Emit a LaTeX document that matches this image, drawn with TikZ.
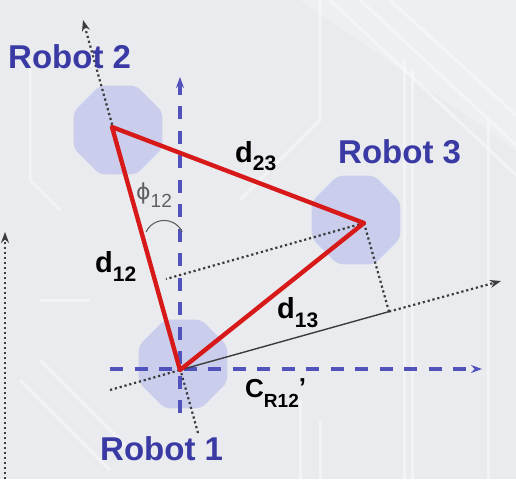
\documentclass[tikz,border=0pt]{standalone}
\usepackage{fontspec}
\setmainfont{Liberation Sans}
\newfontfamily\phifont{DejaVu Sans}
\usetikzlibrary{shapes.geometric,arrows.meta}
\definecolor{bg}{RGB}{234,235,238}
\definecolor{trace}{RGB}{248,249,250}
\definecolor{robotblue}{RGB}{58,58,165}
\definecolor{axisblue}{RGB}{82,82,188}
\definecolor{octfill}{RGB}{202,206,236}
\definecolor{tri}{RGB}{215,25,25}
\definecolor{dotgray}{RGB}{60,60,60}
\definecolor{phigray}{RGB}{95,95,95}
\begin{document}
\begin{tikzpicture}[x=1pt,y=-1pt,
  robot/.style={regular polygon,regular polygon sides=8,minimum size=96pt,inner sep=0pt,fill=octfill,draw=none,rounded corners=6pt},
  axisline/.style={axisblue,line width=3.2pt,dash pattern=on 13pt off 11.5pt,-{Stealth[length=11pt,width=8pt]}},
  guide/.style={dotgray,line width=2.2pt,dash pattern=on 2.2pt off 2.8pt},
  guidearrow/.style={guide,-{Stealth[length=11pt,width=8pt]}},
  proj/.style={dotgray,line width=1.4pt},
  triline/.style={tri,line width=4.4pt,line join=round,line cap=round},
  tracestyle/.style={trace,line width=3pt,opacity=0.6},
  rlabel/.style={robotblue,font=\fontsize{33}{33}\selectfont\bfseries,anchor=base west,inner sep=0pt},
  dlabel/.style={black,anchor=base west,inner sep=0pt,font=\bfseries},
  philabel/.style={phigray,anchor=base west,inner sep=0pt}
]
\useasboundingbox (0,0) rectangle (516,479);
\fill[bg] (0,0) rectangle (516,479);
% faint circuit-board traces
\fill[trace,opacity=0.35] (300,0) -- (516,0) -- (516,150) -- cycle;
\draw[tracestyle] (330,0) -- (516,175);
\draw[tracestyle] (360,0) -- (516,145);
\draw[tracestyle] (390,0) -- (516,115);
\draw[tracestyle] (404,60) -- (404,479);
\draw[tracestyle] (412,70) -- (412,479);
\draw[tracestyle] (488,120) -- (488,479);
\draw[tracestyle] (30,60) -- (30,180) -- (60,210);
\draw[tracestyle] (40,300) -- (90,300);
\draw[tracestyle] (20,380) -- (110,470);
\draw[tracestyle] (40,360) -- (140,460);
\draw[tracestyle] (240,200) -- (320,120) -- (320,0);
\draw[tracestyle] (300,400) -- (300,479);
\draw[tracestyle] (320,420) -- (320,479);

% robots
\node[robot] (o2) at (118,130) {};
\node[robot] (o3) at (356,220) {};
\node[robot] (o1) at (183,364) {};

% key points
\coordinate (r1) at (180,370);
\coordinate (r2) at (112,127);
\coordinate (r3) at (364,223);
\coordinate (vb) at (180,413);
\coordinate (vt) at (180,77);
\coordinate (hl) at (110,369);
\coordinate (hr) at (482,369);
\coordinate (g2) at (83,20);
\coordinate (g1) at (198,433);
\coordinate (pl) at (110,390);
\coordinate (pr) at (501,281);
\coordinate (f3) at (389,311.6);
\coordinate (f12) at (166,279);
\coordinate (el) at (5,479);
\coordinate (et) at (5,232);

% blue axes
\draw[axisline] (vb) -- (vt);
\draw[axisline] (hl) -- (hr);

% guide lines
\draw[guidearrow] (g1) -- (g2);
\draw[guide] (pl) -- (r1);
\draw[proj] (r1) -- (f3);
\draw[guidearrow] (f3) -- (pr);
\draw[guide] (r3) -- (f3);
\draw[guide] (r3) -- (f12);
\draw[guidearrow] (el) -- (et);

% angle arc
\draw[phigray,line width=1.1pt] (146,232) arc[start angle=205,end angle=335,radius=20];

% red triangle
\draw[triline] (r1) -- (r2) -- (r3) -- cycle;

% labels
\node[rlabel] (l2) at (8,68) {Robot 2};
\node[rlabel] (l3) at (338,163) {Robot 3};
\node[rlabel] (l1) at (100,460) {Robot 1};

\node[dlabel] (d23) at (235,162) {\fontsize{29}{29}\selectfont d\raisebox{-8pt}{\fontsize{21}{21}\selectfont 23}};
\node[dlabel] (d12) at (95,272) {\fontsize{29}{29}\selectfont d\raisebox{-9pt}{\fontsize{21}{21}\selectfont 12}};
\node[dlabel] (d13) at (277,318) {\fontsize{29}{29}\selectfont d\raisebox{-9pt}{\fontsize{21}{21}\selectfont 13}};
\node[dlabel] (cr) at (245,397) {\fontsize{26}{26}\selectfont C\raisebox{-10pt}{\fontsize{19}{19}\selectfont R12}\raisebox{1pt}{'}};
\node[philabel] (phi) at (136,199) {{\phifont\fontsize{22}{22}\selectfont ϕ}\raisebox{-8pt}{\fontsize{19}{19}\selectfont 12}};
\end{tikzpicture}
\end{document}
